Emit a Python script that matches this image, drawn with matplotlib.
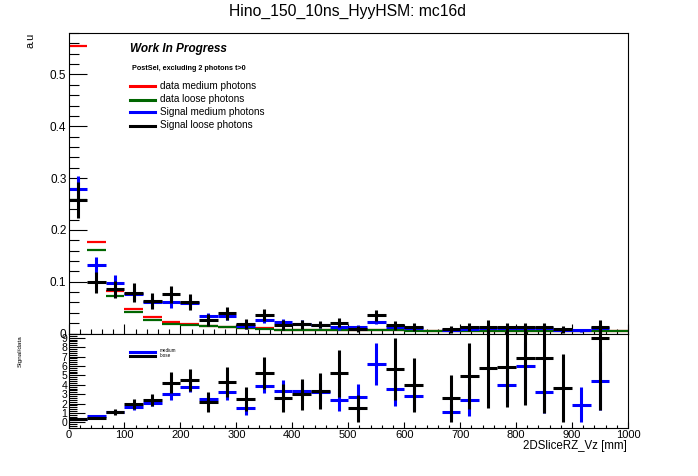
import warnings

import numpy as np
import matplotlib

matplotlib.use("Agg")
import matplotlib.pyplot as plt
from matplotlib.patches import Rectangle
from matplotlib.ticker import MultipleLocator, FixedLocator, FixedFormatter

warnings.filterwarnings("ignore")
plt.rcParams["font.family"] = ["Liberation Sans", "DejaVu Sans"]

W, H = 698, 476
nan = np.nan

# 30 bins of 2DSliceRZ_Vz from 0 to 1000 mm
bin_edges = np.linspace(0, 1000, 31)

# upper pad: normalised distributions (a.u)
data_medium = [0.554, 0.176, 0.082, 0.0464, 0.0316, 0.0213, 0.0187, 0.014, 0.0122, 0.0103,
               0.0103, 0.0077, 0.0077, 0.0058, 0.0058, 0.0064, 0.0064, 0.0064, 0.0077, 0.0045,
               0.0045, 0.0045, 0.0045, 0.0045, 0.0045, 0.0045, 0.0045, 0.0045, 0.0045, 0.0045]
data_loose = [0.257, 0.161, 0.072, 0.0406, 0.027, 0.0193, 0.0155, 0.014, 0.0122, 0.0103,
              0.0084, 0.0077, 0.0077, 0.0058, 0.0058, 0.0064, 0.0064, 0.0064, 0.0045, 0.0045,
              0.0045, 0.0045, 0.0045, 0.0045, 0.0045, 0.0045, 0.0045, 0.0045, 0.0045, 0.0045]
sig_medium = [0.279, 0.1315, 0.0967, 0.076, 0.061, 0.0606, 0.0587, 0.0335, 0.0335, 0.014,
              0.027, 0.0213, 0.0193, 0.016, 0.0116, 0.0129, 0.0226, 0.0123, 0.0103, nan,
              0.006, 0.009, 0.010, 0.0115, 0.011, 0.0103, 0.007, 0.006, 0.0103, nan]
sig_medium_err = [0.025, 0.017, 0.016, 0.012, 0.012, 0.012, 0.010, 0.007, 0.008, 0.005,
                  0.006, 0.006, 0.006, 0.005, 0.005, 0.004, 0.005, 0.004, 0.004, 0.0,
                  0.003, 0.003, 0.003, 0.003, 0.003, 0.003, 0.003, 0.003, 0.003, 0.0]
sig_loose = [0.257, 0.099, 0.085, 0.0787, 0.0625, 0.0754, 0.061, 0.0258, 0.0387, 0.0187,
             0.0355, 0.0168, 0.018, 0.0168, 0.0206, 0.009, 0.0348, 0.0155, 0.0123, nan,
             0.0084, 0.0123, 0.0123, 0.0123, 0.0123, 0.0123, 0.008, nan, 0.0123, nan]
sig_loose_err = [0.035, 0.02, 0.016, 0.018, 0.015, 0.017, 0.015, 0.012, 0.013, 0.010,
                 0.012, 0.010, 0.009, 0.007, 0.009, 0.006, 0.010, 0.009, 0.008, 0.0,
                 0.007, 0.008, 0.014, 0.008, 0.008, 0.008, 0.007, 0.0, 0.014, 0.0]

# lower pad: Signal/data
ratio_medium = [0.32, 0.70, 1.13, 1.66, 2.09, 2.97, 3.79, 2.51, 3.26, 1.49,
                3.9, 3.36, 3.33, 3.26, 2.4, 2.73, 6.2, 3.51, 2.83, nan,
                1.13, 2.4, nan, 4.0, 6.02, 3.26, nan, 1.87, 4.43, nan]
ratio_medium_err = [0.05, 0.08, 0.15, 0.3, 0.35, 0.6, 0.6, 0.4, 0.9, 0.7,
                    0.8, 1.1, 1.0, 1.0, 1.2, 1.4, 2.2, 1.8, 1.5, 0.0,
                    0.8, 1.7, 0.0, 1.8, 2.5, 2.3, 0.0, 1.9, 3.1, 0.0]
ratio_loose = [0.32, 0.49, 1.13, 1.95, 2.37, 4.21, 4.53, 2.19, 4.32, 2.51,
               5.28, 2.62, 2.98, 3.36, 5.21, 1.49, nan, 5.64, 3.97, nan,
               2.55, 4.96, 5.74, 5.92, 6.87, 6.87, 3.62, nan, 8.94, nan]
ratio_loose_err = [0.05, 0.1, 0.3, 0.5, 0.65, 1.1, 1.15, 1.07, 1.6, 1.3,
                   1.7, 1.5, 1.65, 1.9, 2.5, 1.45, 0.0, 3.3, 2.9, 0.0,
                   2.5, 3.5, 4.2, 4.3, 5.0, 5.9, 3.6, 0.0, 7.6, 0.0]

RED = "#ff0000"
GREEN = "#006600"
BLUE = "#0000ff"
BLACK = "#000000"


def fx(px):
    return px / W


def fy(py):
    return 1 - py / H


def draw_bins(ax, vals, errs=None, color="k", lw=2.2, clip=None, floor=None):
    vals = np.asarray(vals, float)
    lo_e, hi_e = bin_edges[:-1], bin_edges[1:]
    centers = 0.5 * (lo_e + hi_e)
    ok = ~np.isnan(vals)
    arts = [ax.hlines(vals[ok], lo_e[ok], hi_e[ok], colors=color, linewidth=lw)]
    if errs is not None:
        errs = np.asarray(errs, float)
        lo = vals - errs
        if floor is not None:
            lo = np.maximum(lo, floor)
        arts.append(ax.vlines(centers[ok], lo[ok], (vals + errs)[ok], colors=color, linewidth=lw))
    if clip is not None:
        for a in arts:
            a.set_clip_path(clip)


def style_frame(ax):
    for s in ax.spines.values():
        s.set_linewidth(0.8)
    ax.tick_params(which="both", direction="in", top=False, right=False, width=0.8)


fig = plt.figure(figsize=(W / 100, H / 100), dpi=100, facecolor="white")

left, right = 68.5, 628
ax_up = fig.add_axes([fx(left), fy(333.5), (right - left) / W, (333.5 - 33) / H])
ax_lo = fig.add_axes([fx(left), fy(428), (right - left) / W, (428 - 333.5) / H])

# ---- upper pad
draw_bins(ax_up, data_medium, color=RED, lw=1.6)
draw_bins(ax_up, data_loose, color=GREEN, lw=1.6)
draw_bins(ax_up, sig_medium, sig_medium_err, color=BLUE, lw=2.2)
draw_bins(ax_up, sig_loose, sig_loose_err, color=BLACK, lw=2.2)

ax_up.set_xlim(0, 1000)
ax_up.set_ylim(0, 0.58)
style_frame(ax_up)
ax_up.xaxis.set_major_locator(MultipleLocator(100))
ax_up.xaxis.set_minor_locator(MultipleLocator(20))
ax_up.tick_params(axis="x", which="major", length=7, labelbottom=False)
ax_up.tick_params(axis="x", which="minor", length=3.5)
ax_up.yaxis.set_major_locator(FixedLocator([0, 0.1, 0.2, 0.3, 0.4, 0.5]))
ax_up.yaxis.set_major_formatter(FixedFormatter(["0", "0.1", "0.2", "0.3", "0.4", "0.5"]))
ax_up.yaxis.set_minor_locator(MultipleLocator(0.02))
ax_up.tick_params(axis="y", which="major", length=13, labelsize=8.5, pad=1.5)
ax_up.tick_params(axis="y", which="minor", length=7.5)

ax_up.text(fx(130), fy(49), "Work In Progress", transform=fig.transFigure,
           fontsize=8.5, fontweight="bold", fontstyle="italic", va="center")
ax_up.text(fx(132), fy(68.5), "PostSel, excluding 2 photons t>0", transform=fig.transFigure,
           fontsize=5.2, fontweight="bold", va="center")
legend_rows = [(RED, "data medium photons", 86),
               (GREEN, "data loose photons", 99.5),
               (BLUE, "Signal medium photons", 112),
               (BLACK, "Signal loose photons", 125.5)]
for col, lab, ypx in legend_rows:
    fig.add_artist(plt.Line2D([fx(130), fx(155)], [fy(ypx), fy(ypx)], color=col, linewidth=2.2,
                              transform=fig.transFigure))
    fig.text(fx(160), fy(ypx), lab, fontsize=7.2, va="center")

# ---- lower pad
clip_rect = Rectangle((0, 0), 1, 1.09, transform=ax_lo.transAxes, facecolor="none")
draw_bins(ax_lo, ratio_medium, ratio_medium_err, color=BLUE, lw=2.2, clip=clip_rect, floor=0)
draw_bins(ax_lo, ratio_loose, ratio_loose_err, color=BLACK, lw=2.2, clip=clip_rect, floor=0)

ax_lo.set_xlim(0, 1000)
ax_lo.set_ylim(-0.6, 9.45)
style_frame(ax_lo)
ax_lo.xaxis.set_major_locator(MultipleLocator(100))
ax_lo.xaxis.set_minor_locator(MultipleLocator(20))
ax_lo.tick_params(axis="x", which="major", length=4.5, labelsize=8, pad=1.5)
ax_lo.tick_params(axis="x", which="minor", length=2.5)
ax_lo.yaxis.set_major_locator(MultipleLocator(1))
ax_lo.yaxis.set_minor_locator(MultipleLocator(0.2))
ax_lo.tick_params(axis="y", which="major", length=11.5, labelsize=7.5, pad=1)
ax_lo.tick_params(axis="y", which="minor", length=6)

fig.add_artist(plt.Line2D([fx(130), fx(155)], [fy(352), fy(352)], color=BLUE, linewidth=2.2,
                          transform=fig.transFigure))
fig.add_artist(plt.Line2D([fx(130), fx(155)], [fy(356), fy(356)], color=BLACK, linewidth=2.2,
                          transform=fig.transFigure))
fig.text(fx(160), fy(350.7), "medium", fontsize=3.3, va="center")
fig.text(fx(160), fy(355.3), "loose", fontsize=3.3, va="center")

# ---- titles and axis texts
fig.text(fx(347.5), fy(15.5), "Hino_150_10ns_HyyHSM: mc16d", ha="center", va="baseline",
         fontsize=11.3)
fig.text(fx(31), fy(33), "a.u", rotation=90, ha="center", va="top", fontsize=7.8)
fig.text(fx(20), fy(335), "Signal/data", rotation=90, ha="center", va="top", fontsize=4.6)
fig.text(fx(627), fy(446), "2DSliceRZ_Vz [mm]", ha="right", va="center", fontsize=8.3)

fig.savefig("out.png", dpi=100, facecolor="white")
